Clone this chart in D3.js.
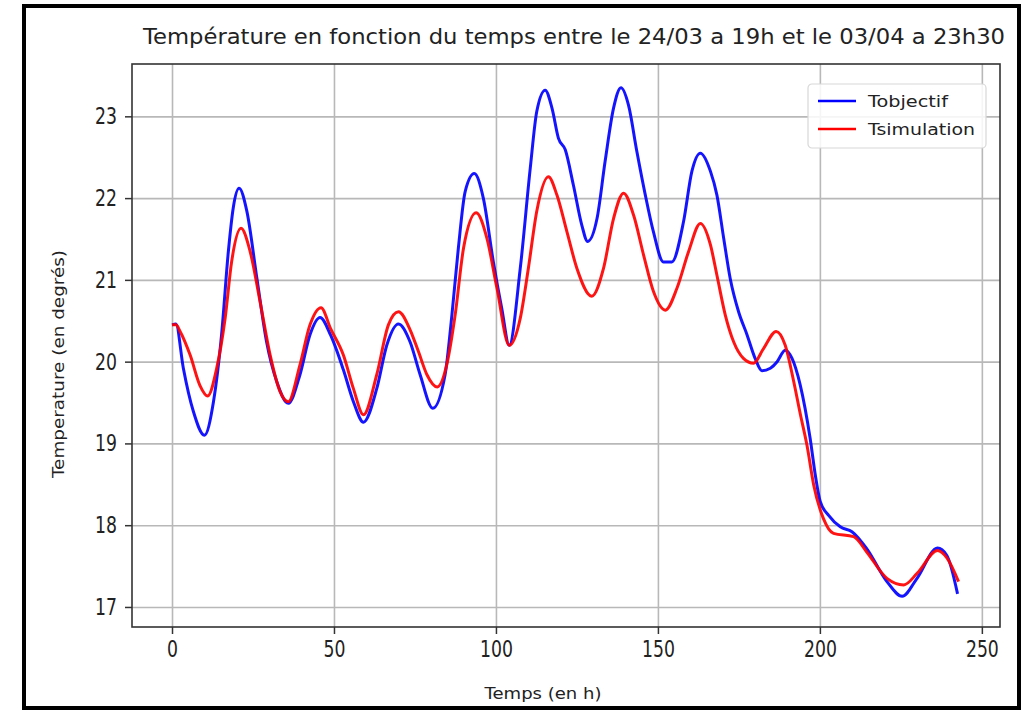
<!DOCTYPE html>
<html>
<head>
<meta charset="utf-8">
<script src="https://cdn.jsdelivr.net/npm/d3@7/dist/d3.min.js"></script>
<style>
  body { margin: 0; background: #fff; }
  text { font-family: "DejaVu Sans", sans-serif; fill: #222; }
</style>
</head>
<body>
<svg id="chart" width="1028" height="712"></svg>
<script>
// Tobjectif (blue) : hours / degrees
const tObj = [0,1.2,3.5,6.6,10,12.8,15.3,17.4,18.9,20.7,23.1,26.2,29.2,32.3,35.9,39.5,42.6,45.7,49,52.9,56,59.1,63.2,66.3,69.9,73.5,76.6,80.5,84.3,86.4,88.4,90.5,93.3,96.1,99.2,101.8,104.1,107.5,110.6,112.6,115.2,117.3,119.3,121.4,123.9,126.5,128.3,131.2,133.7,136.3,138.6,140.9,143.5,146.1,148.6,151.7,154.3,157.9,160.5,163.1,166.2,168.2,170.3,172.3,174.9,177.5,180,182.1,184.7,186.8,189.3,191.4,193.9,197,198.6,200.1,202.7,206.3,209.9,214.5,220.7,225.4,230,236.3,239.2,242.5];
const TObj = [20.45,20.46,19.92,19.39,19.1,19.51,20.33,21.35,21.88,22.12,21.84,21.02,20.24,19.76,19.49,19.84,20.33,20.54,20.32,19.9,19.51,19.26,19.67,20.2,20.46,20.24,19.84,19.43,19.84,20.57,21.39,22.08,22.3,22.0,21.22,20.65,20.2,21.14,22.37,23.06,23.32,23.1,22.73,22.59,22.16,21.67,21.47,21.75,22.45,23.1,23.35,23.14,22.57,22.04,21.59,21.22,21.22,21.71,22.33,22.55,22.33,22.04,21.51,21.02,20.61,20.33,20.04,19.89,19.92,20.0,20.14,20.04,19.72,19.06,18.61,18.29,18.12,17.98,17.92,17.71,17.31,17.13,17.35,17.72,17.63,17.16];

// Tsimulation (red)
const tSim = [0,1.2,2.5,5.6,8.6,11,13.8,16.4,18.4,21.3,24.1,27.2,30.3,33.4,35.9,39.5,42.6,46,49,52.9,56,59.1,63.2,66.8,69.9,73.5,76.1,78.7,81.9,84.8,87.4,90,93.9,97.2,100.3,104.1,107.5,110,112.6,116.2,118.8,121.9,125,129.6,133.2,136.3,139.4,142.5,145.6,148.6,152.3,155.9,159.5,163.1,166.2,168.2,170.8,173.4,176.4,179.5,182.6,186.5,189.3,191.9,194,196,198.1,201.1,204.2,210.4,214.5,220.7,225.9,230,236.3,239.2,242.8];
const TSim = [20.45,20.45,20.37,20.08,19.71,19.58,19.92,20.53,21.22,21.63,21.35,20.73,20.08,19.63,19.51,19.96,20.45,20.66,20.4,20.08,19.67,19.35,19.84,20.45,20.61,20.39,20.12,19.84,19.69,19.96,20.57,21.39,21.82,21.51,20.9,20.2,20.53,21.14,21.84,22.26,22.04,21.59,21.14,20.8,21.14,21.75,22.06,21.79,21.3,20.86,20.63,20.9,21.35,21.69,21.43,21.06,20.57,20.24,20.04,19.98,20.16,20.37,20.2,19.76,19.35,18.98,18.49,18.08,17.9,17.86,17.67,17.35,17.27,17.41,17.69,17.6,17.31];

const xTicks = [0, 50, 100, 150, 200, 250];
const yTicks = [17, 18, 19, 20, 21, 22, 23];
const seriesNames = ["Tobjectif", "Tsimulation"];
const seriesColors = ["#0000ff", "#ff0000"];

const titleText = "Température en fonction du temps entre le 24/03 a 19h et le 03/04 a 23h30";
const xLabel = "Temps (en h)";
const yLabel = "Temperature (en degrés)";

const svg = d3.select("#chart");
const mLeft = 132, mRight = 1000, mTop = 64, mBottom = 627;

// squeeze text horizontally, the picture's lettering is narrow
function squeeze(sel, k) {
  sel.each(function () {
    const w = this.getComputedTextLength();
    d3.select(this).attr("textLength", w * k).attr("lengthAdjust", "spacingAndGlyphs");
  });
}
function fitTo(sel, w) {
  sel.attr("textLength", w).attr("lengthAdjust", "spacingAndGlyphs");
}

svg.append("rect").attr("width", 1028).attr("height", 712).attr("fill", "#fff");
// black frame around the whole picture
svg.append("rect")
  .attr("x", 24).attr("y", 6).attr("width", 995).attr("height", 702)
  .attr("fill", "none").attr("stroke", "#000").attr("stroke-width", 4);

const x = d3.scaleLinear().domain([-12.35, 255.6]).range([mLeft, mRight]);
const y = d3.scaleLinear().domain([16.755, 23.64]).range([mBottom, mTop]);

// grid
svg.append("g").attr("transform", `translate(0,${mBottom})`)
  .call(d3.axisBottom(x).tickValues(xTicks).tickSize(-(mBottom - mTop)).tickFormat(""))
  .call(g => g.select(".domain").remove())
  .selectAll("line").attr("stroke", "#b8b8b8").attr("stroke-width", 1.6);
svg.append("g").attr("transform", `translate(${mLeft},0)`)
  .call(d3.axisLeft(y).tickValues(yTicks).tickSize(-(mRight - mLeft)).tickFormat(""))
  .call(g => g.select(".domain").remove())
  .selectAll("line").attr("stroke", "#b8b8b8").attr("stroke-width", 1.6);

// curves
const series = [[tObj, TObj], [tSim, TSim]];
const line = d3.line().x(d => x(d[0])).y(d => y(d[1])).curve(d3.curveMonotoneX);
series.forEach((s, i) => {
  const pts = s[0].map((t, j) => [t, s[1][j]]);
  svg.append("path").datum(pts)
    .attr("d", line)
    .attr("fill", "none")
    .attr("stroke", seriesColors[i])
    .attr("stroke-width", 3)
    .attr("stroke-linejoin", "round")
    .attr("opacity", 0.92);
});

// axes
const xAxis = svg.append("g").attr("transform", `translate(0,${mBottom})`)
  .call(d3.axisBottom(x).tickValues(xTicks).tickSize(7).tickSizeOuter(0).tickPadding(7));
const yAxis = svg.append("g").attr("transform", `translate(${mLeft},0)`)
  .call(d3.axisLeft(y).tickValues(yTicks).tickFormat(d3.format("d")).tickSize(7).tickSizeOuter(0).tickPadding(8));
[xAxis, yAxis].forEach(a => {
  a.select(".domain").remove();
  a.selectAll("line").attr("stroke", "#333").attr("stroke-width", 1.5);
  a.selectAll("text").attr("font-size", 23).attr("fill", "#222")
    .style("font-family", '"DejaVu Sans", sans-serif');
  squeeze(a.selectAll("text"), 0.75);
});

// spines
svg.append("rect")
  .attr("x", mLeft).attr("y", mTop).attr("width", mRight - mLeft).attr("height", mBottom - mTop)
  .attr("fill", "none").attr("stroke", "#333").attr("stroke-width", 1.6);

// labels
svg.append("text").attr("x", 574).attr("y", 44)
  .attr("text-anchor", "middle").attr("font-size", 21)
  .text(titleText).call(fitTo, 862);
svg.append("text").attr("x", 543).attr("y", 699)
  .attr("text-anchor", "middle").attr("font-size", 15)
  .text(xLabel).call(fitTo, 117);
svg.append("text").attr("transform", "translate(64,364) rotate(-90)")
  .attr("text-anchor", "middle").attr("font-size", 15)
  .text(yLabel).call(fitTo, 228);

// legend
const lg = svg.append("g").attr("transform", "translate(808,84)");
lg.append("rect").attr("width", 178).attr("height", 64).attr("rx", 4)
  .attr("fill", "#fff").attr("fill-opacity", 0.85)
  .attr("stroke", "#d8d8d8").attr("stroke-width", 1.2);
const legendWidths = [80, 107];
seriesNames.forEach((name, i) => {
  const ly = 17 + i * 28;
  lg.append("line").attr("x1", 10).attr("x2", 48).attr("y1", ly).attr("y2", ly)
    .attr("stroke", seriesColors[i]).attr("stroke-width", 2.5);
  lg.append("text").attr("x", 60).attr("y", ly + 6).attr("font-size", 16)
    .text(name).call(fitTo, legendWidths[i]);
});
</script>
</body>
</html>
